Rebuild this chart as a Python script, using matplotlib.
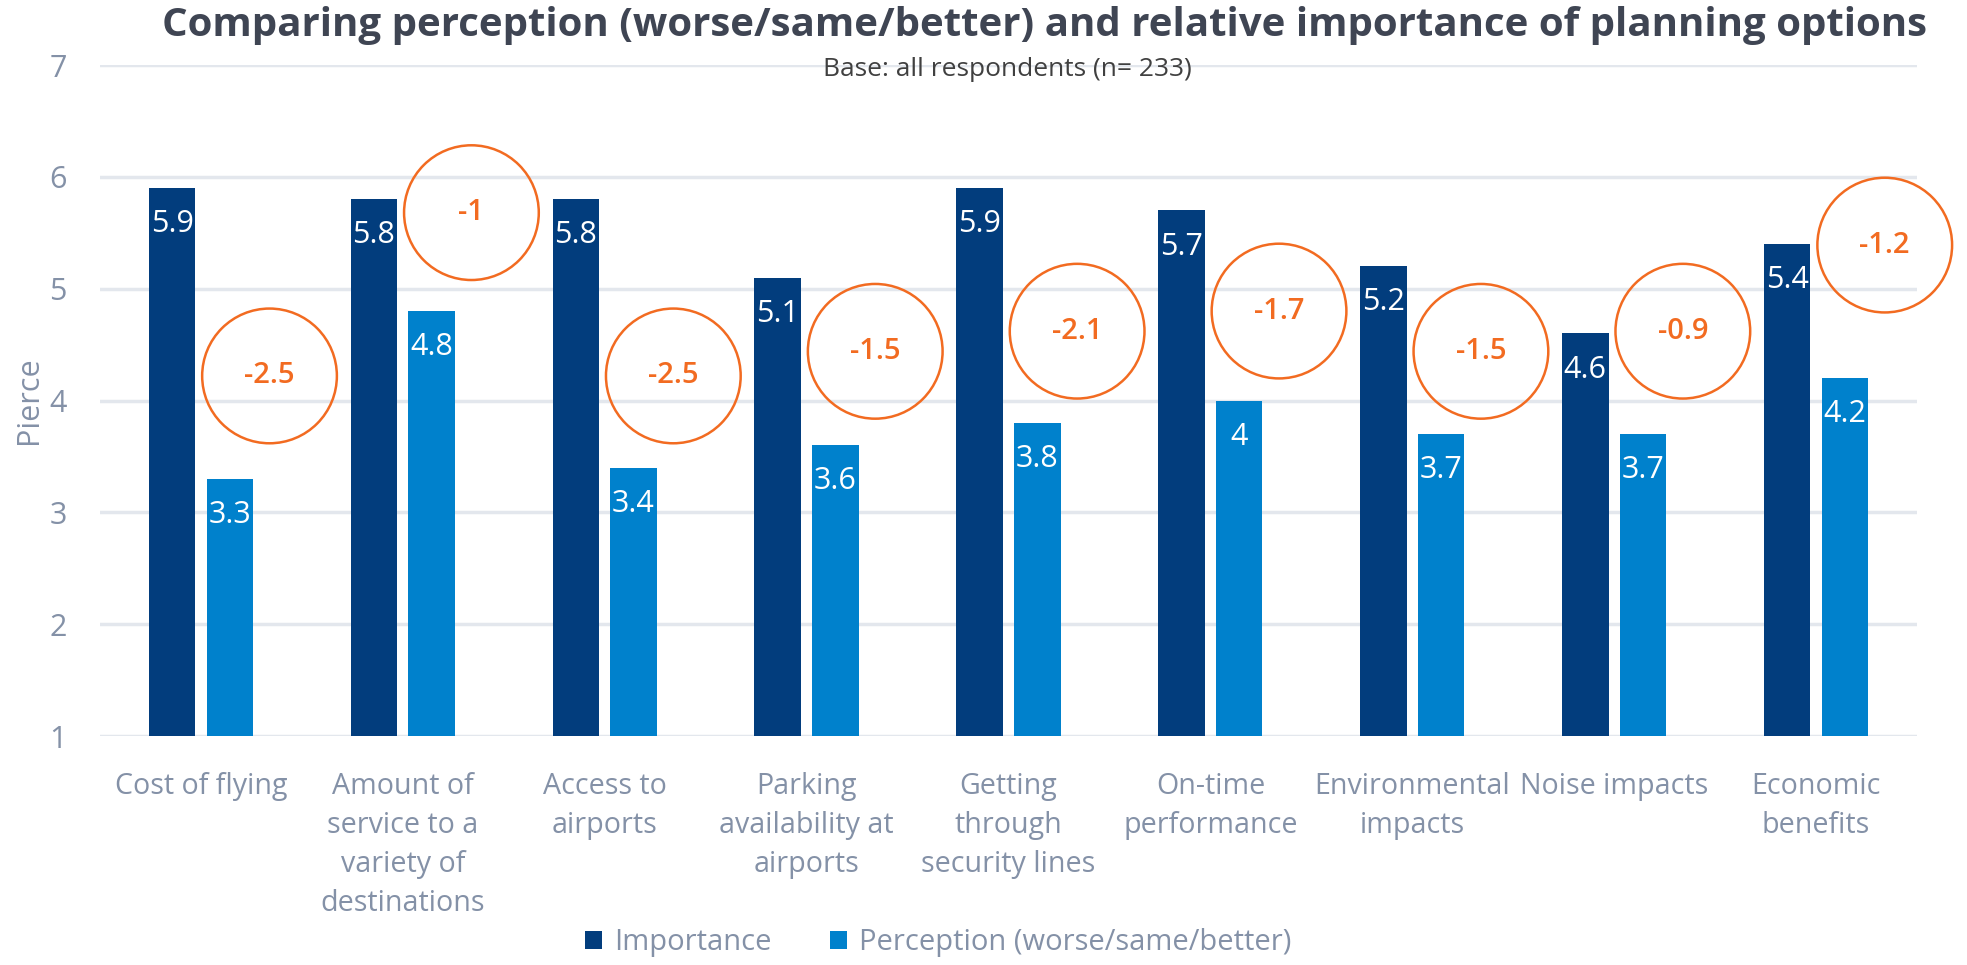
import matplotlib
matplotlib.use('Agg')
import matplotlib.pyplot as plt
import numpy as np

plt.rcParams['font.family'] = ['Open Sans', 'DejaVu Sans']

categories = ['Cost of flying',
              'Amount of\nservice to a\nvariety of\ndestinations',
              'Access to\nairports',
              'Parking\navailability at\nairports',
              'Getting\nthrough\nsecurity lines',
              'On-time\nperformance',
              'Environmental\nimpacts',
              'Noise impacts',
              'Economic\nbenefits']
importance = [5.9, 5.8, 5.8, 5.1, 5.9, 5.7, 5.2, 4.6, 5.4]
perception = [3.3, 4.8, 3.4, 3.6, 3.8, 4.0, 3.7, 3.7, 4.2]
gap_labels = ['-2.5', '-1', '-2.5', '-1.5', '-2.1', '-1.7', '-1.5', '-0.9', '-1.2']
# where the callout circles sit
circle_y = [4.22, 5.68, 4.22, 4.44, 4.62, 4.80, 4.44, 4.62, 5.39]

navy = '#023d7d'
blue = '#0081cc'
orange = '#f26b21'
slate = '#8491a7'
grid_col = '#e3e7ed'

fig = plt.figure(figsize=(19.67, 9.65), dpi=100)
ax = fig.add_axes([0.0508, 0.2373, 0.9238, 0.6953])

x = np.arange(len(categories))
w = 0.23
off = 0.143
ax.bar(x - off, importance, w, color=navy, label='Importance', zorder=2)
ax.bar(x + off, perception, w, color=blue, label='Perception (worse/same/better)', zorder=2)

for i in range(len(x)):
    ax.annotate(f'{importance[i]:g}', (x[i] - off, importance[i]), xytext=(0, -26),
                textcoords='offset points', ha='center', va='center',
                color='white', fontsize=22, zorder=3)
    ax.annotate(f'{perception[i]:g}', (x[i] + off, perception[i]), xytext=(0, -26),
                textcoords='offset points', ha='center', va='center',
                color='white', fontsize=22, zorder=3)

ax.scatter(x + 0.34, circle_y, s=97 ** 2, facecolors='none', edgecolors=orange,
           linewidths=1.8, zorder=4, clip_on=False)
for i in range(len(x)):
    ax.text(x[i] + 0.34, circle_y[i], gap_labels[i], ha='center', va='center',
            color=orange, fontsize=21, fontweight='semibold', zorder=5)

ax.set_xlim(-0.5, len(categories) - 0.5)
ax.set_ylim(1, 7)
ax.set_yticks(range(1, 8))
ax.yaxis.grid(True, color=grid_col, linewidth=2.5, zorder=0)
ax.set_axisbelow(True)
for s in ax.spines.values():
    s.set_visible(False)
ax.tick_params(axis='both', length=0, colors=slate)
ax.tick_params(axis='y', pad=24, labelsize=22)
ax.tick_params(axis='x', pad=26, labelsize=20.6)
ax.set_xticks(x)
ax.set_xticklabels(categories, linespacing=1.45)
ax.set_ylabel('Pierce', color=slate, fontsize=22, labelpad=4)

fig.text(0.531, 0.974, 'Comparing perception (worse/same/better) and relative importance of planning options',
         ha='center', va='center', fontsize=29, fontweight='bold', color='#3f4553')
fig.text(0.512, 0.928, 'Base: all respondents (n= 233)', ha='center', va='center',
         fontsize=19, color='#404040')

fig.legend(loc='center', bbox_to_anchor=(0.477, 0.023), ncol=2, frameon=False,
           fontsize=21, labelcolor=slate, handlelength=0.6, handleheight=0.6,
           handletextpad=0.4, columnspacing=2.0)

fig.savefig('out.png', dpi=100)
